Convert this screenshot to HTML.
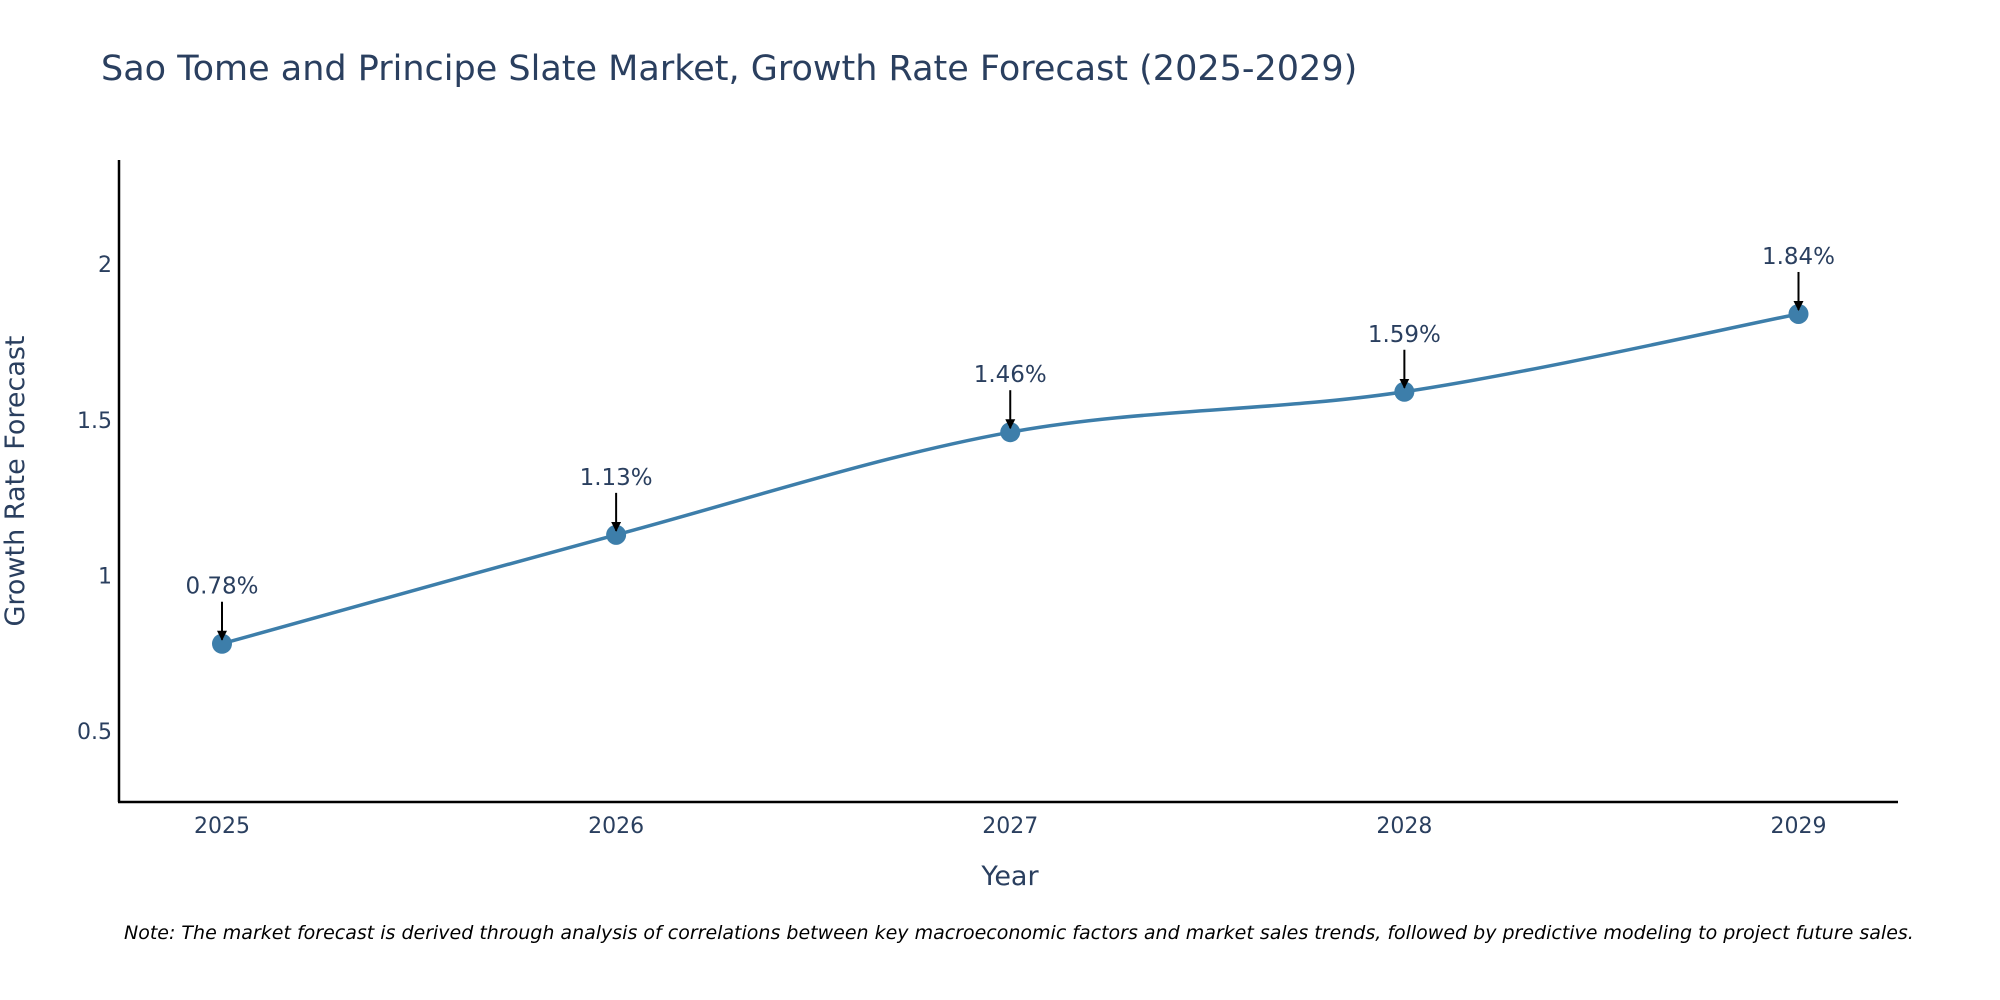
<!DOCTYPE html>
<html><head><meta charset="utf-8"><style>
html,body{margin:0;padding:0;background:#fff;}
svg{display:block;font-family:"DejaVu Sans","Liberation Sans",sans-serif;}
</style></head><body>
<svg id="chart" width="2000" height="1000" viewBox="0 0 2000 1000">
<text x="101" y="80" font-size="35" fill="#2a3f5f">Sao Tome and Principe Slate Market, Growth Rate Forecast (2025-2029)</text>
<g id="yticks"></g>
<g id="xticks"></g>
<line x1="119" y1="160" x2="119" y2="802" stroke="#000" stroke-width="2.5"/>
<line x1="118" y1="802" x2="1898" y2="802" stroke="#000" stroke-width="2.5"/>
<path id="line" fill="none" stroke="#3d7eaa" stroke-width="3.5"/>
<g id="points"></g>
<g id="annots"></g>
<text x="24" y="481" font-size="27" fill="#2a3f5f" text-anchor="middle" transform="rotate(-90 24 481)">Growth Rate Forecast</text>
<text x="1010" y="885" font-size="27" fill="#2a3f5f" text-anchor="middle">Year</text>
<text x="124" y="939" font-size="19" font-style="italic" fill="#000">Note: The market forecast is derived through analysis of correlations between key macroeconomic factors and market sales trends, followed by predictive modeling to project future sales.</text>
<defs><marker id="ah" viewBox="0 0 10 10" refX="9" refY="5" markerWidth="5" markerHeight="5" orient="auto"><path d="M0,0 L10,5 L0,10 z" fill="#000"/></marker></defs>
</svg>
<script>
const years=[2025,2026,2027,2028,2029];
const values=[0.78,1.13,1.46,1.59,1.84];
const labels=["0.78%","1.13%","1.46%","1.59%","1.84%"];
const yTicks=[0.5,1,1.5,2];
const NS="http://www.w3.org/2000/svg";
function xs(v){return 222+(v-2025)*(1798.5-222)/4;}
function ys(v){return 575.3-(v-1)*311.1;}
function mk(tag,attrs,parent){const e=document.createElementNS(NS,tag);for(const k in attrs)e.setAttribute(k,attrs[k]);parent.appendChild(e);return e;}
const yt=document.getElementById('yticks');
yTicks.forEach(t=>{const e=mk('text',{x:112,y:ys(t)+8,'font-size':22,fill:'#2a3f5f','text-anchor':'end'},yt);e.textContent=t;

});
const xt=document.getElementById('xticks');
years.forEach(t=>{const e=mk('text',{x:xs(t),y:833,'font-size':22,fill:'#2a3f5f','text-anchor':'middle'},xt);e.textContent=t;

});
const P=years.map((y,i)=>[xs(y),ys(values[i])]);
let d='M'+P[0][0]+','+P[0][1];
for(let i=0;i<P.length-1;i++){const p0=P[i-1]||P[i],p1=P[i],p2=P[i+1],p3=P[i+2]||p2;const k=6;
d+=' C'+(p1[0]+(p2[0]-p0[0])/k)+','+(p1[1]+(p2[1]-p0[1])/k)+' '+(p2[0]-(p3[0]-p1[0])/k)+','+(p2[1]-(p3[1]-p1[1])/k)+' '+p2[0]+','+p2[1];}
document.getElementById('line').setAttribute('d',d);
const pts=document.getElementById('points'),an=document.getElementById('annots');
P.forEach((p,i)=>{const c=mk('circle',{cx:p[0],cy:p[1],r:10,fill:'#3d7eaa'},pts);


const l=mk('line',{x1:p[0],y1:p[1]-42,x2:p[0],y2:p[1]-4,stroke:'#000','stroke-width':2,'marker-end':'url(#ah)'},an);


const t=mk('text',{x:p[0],y:p[1]-50,'font-size':23,fill:'#2a3f5f','text-anchor':'middle'},an);t.textContent=labels[i];

});
</script>
</body></html>
